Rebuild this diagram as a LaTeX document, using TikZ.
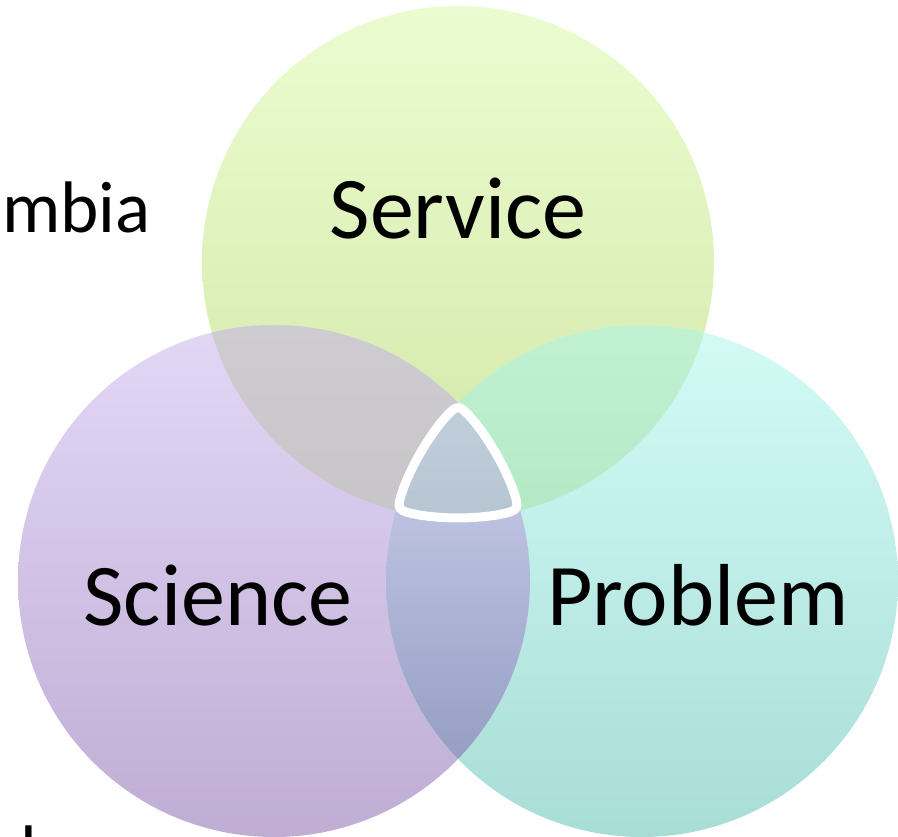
\documentclass[tikz,border=0pt]{standalone}
\usepackage{fontspec}
\setmainfont{Carlito}
\usetikzlibrary{calc}
\definecolor{servTop}{HTML}{EBFDD0}
\definecolor{servBot}{HTML}{D3E6A6}
\definecolor{sciTop}{HTML}{E3D7F6}
\definecolor{sciBot}{HTML}{BFADD4}
\definecolor{probTop}{HTML}{D3FBF6}
\definecolor{probBot}{HTML}{A8DDD6}
\definecolor{ssTop}{HTML}{CECCD1}
\definecolor{ssBot}{HTML}{C7C5C7}
\definecolor{spTop}{HTML}{C0F2D2}
\definecolor{spBot}{HTML}{B4E8C5}
\definecolor{cpTop}{HTML}{CED1EE}
\definecolor{cpBot}{HTML}{959EC3}
\definecolor{ctrTop}{HTML}{C0CFDB}
\definecolor{ctrBot}{HTML}{B6C5D1}
\tikzset{
  lbl/.style={font=\fontsize{88}{96}\selectfont, text=black, inner sep=0pt, anchor=base},
  sidelbl/.style={font=\fontsize{73}{80}\selectfont, text=black, inner sep=0pt, anchor=base west},
}
\begin{document}
\begin{tikzpicture}[x=1pt,y=1pt]
\useasboundingbox (0,0) rectangle (898,837);
\coordinate (S) at (458,575);
\coordinate (C) at (274,256);
\coordinate (P) at (642,256);
\def\r{256}
% circles
\shade[top color=servTop, bottom color=servBot] (S) circle (\r);
\shade[top color=sciTop, bottom color=sciBot] (C) circle (\r);
\shade[top color=probTop, bottom color=probBot] (P) circle (\r);
% pairwise overlaps
\begin{scope}
  \clip (S) circle (\r);
  \clip (C) circle (\r);
  \shade[top color=ssTop, bottom color=ssBot] (150,317) rectangle (470,512);
\end{scope}
\begin{scope}
  \clip (S) circle (\r);
  \clip (P) circle (\r);
  \shade[top color=spTop, bottom color=spBot] (446,317) rectangle (770,512);
\end{scope}
\begin{scope}
  \clip (C) circle (\r);
  \clip (P) circle (\r);
  \shade[top color=cpTop, bottom color=cpBot] (380,77) rectangle (540,434);
\end{scope}
% centre region
\coordinate (T) at (458,434);
\coordinate (L) at (395.9,326.6);
\coordinate (R) at (520.1,326.6);
\coordinate (A1) at ($(P)+(141.45:\r)$);
\coordinate (B1) at ($(S)+(261.46:\r)$);
\coordinate (C1) at ($(C)+(21.5:\r)$);
\shade[top color=ctrTop, bottom color=ctrBot, draw=white, line width=9pt, line join=round]
  (A1) arc[start angle=141.45, end angle=158.5, radius=\r]
  .. controls (L) .. (B1)
  arc[start angle=261.46, end angle=278.54, radius=\r]
  .. controls (R) .. (C1)
  arc[start angle=21.5, end angle=38.55, radius=\r]
  .. controls (T) .. (A1) -- cycle;
% labels
\node[lbl] (service) at (458,598) {Service};
\node[lbl] (science) at (218,211) {Science};
\node[lbl] (problem) at (698,211) {Problem};
\node[sidelbl] (mbia) at (2,604) {mbia};
\node[sidelbl] (ell) at (20,-40) {l};
\end{tikzpicture}
\end{document}
